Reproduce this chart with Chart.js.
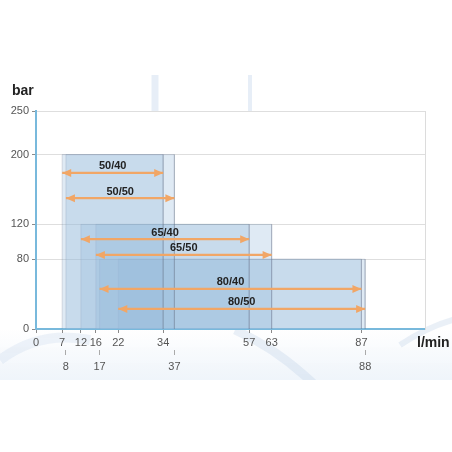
<!DOCTYPE html>
<html>
<head>
<meta charset="utf-8">
<script src="https://cdn.jsdelivr.net/npm/chart.js@4.4.1/dist/chart.umd.min.js"></script>
<style>
  html, body { margin: 0; padding: 0; background: #fff; }
  #wrap { width: 452px; height: 452px; }
</style>
</head>
<body>
<div id="wrap"><canvas id="grafico"></canvas></div>
<script>
// pump models and their working ranges (l/min) and max pressure (bar)
const modelos = ['50/40', '50/50', '65/40', '65/50', '80/40', '80/50'];
const vazaoMin = [7, 8, 12, 16, 17, 22];
const vazaoMax = [34, 37, 57, 63, 87, 88];
const pressaoMax = [200, 200, 120, 120, 80, 80];
// height (bar) at which each range arrow sits
const nivelSeta = [179, 150, 103, 85, 46, 23];

const ticksY = [0, 80, 120, 200, 250];
const ticksX1 = [0, 7, 12, 16, 22, 34, 57, 63, 87];
const ticksX2 = [8, 17, 37, 88];

const corSeta = 'rgb(241, 166, 102)';
const fonte = '"Liberation Sans", Arial, sans-serif';

const datasets = [];
modelos.forEach((m, i) => {
    datasets.push({
        label: m,
        data: [
            { x: vazaoMin[i], y: nivelSeta[i] },
            { x: vazaoMax[i], y: nivelSeta[i] }
        ],
        borderColor: corSeta,
        borderWidth: 2.2,
        pointRadius: 0,
        fill: false,
        order: 0,
        seta: true
    });
});
modelos.forEach((m, i) => {
    datasets.push({
        label: 'box ' + m,
        data: [
            { x: vazaoMin[i], y: 0 },
            { x: vazaoMin[i], y: pressaoMax[i] },
            { x: vazaoMax[i], y: pressaoMax[i] },
            { x: vazaoMax[i], y: 0 }
        ],
        borderColor: 'rgba(115, 130, 150, 0.28)',
        borderWidth: 1,
        backgroundColor: 'rgba(150, 185, 220, 0.3)',
        pointRadius: 0,
        tension: 0,
        fill: 'origin',
        order: 1
    });
});

// faint background picture behind the plot
const fundo = {
    id: 'fundo',
    beforeDraw(chart) {
        const ctx = chart.ctx;
        const a = chart.chartArea;
        ctx.save();
        ctx.beginPath();
        ctx.rect(0, 75, chart.width, 305);
        ctx.clip();
        const g = ctx.createLinearGradient(0, 330, 0, 380);
        g.addColorStop(0, 'rgba(228, 237, 247, 0.0)');
        g.addColorStop(1, 'rgba(228, 237, 247, 0.6)');
        ctx.fillStyle = g;
        ctx.fillRect(0, 330, chart.width, 50);
        ctx.strokeStyle = 'rgba(185, 205, 230, 0.3)';
        ctx.lineWidth = 9;
        ctx.beginPath();
        ctx.moveTo(235, 330);
        ctx.quadraticCurveTo(280, 350, 320, 390);
        ctx.stroke();
        ctx.lineWidth = 6;
        ctx.beginPath();
        ctx.moveTo(400, 345);
        ctx.quadraticCurveTo(430, 325, 460, 318);
        ctx.stroke();
        ctx.strokeStyle = 'rgba(205, 220, 238, 0.35)';
        ctx.lineWidth = 10;
        ctx.beginPath();
        ctx.moveTo(0, 360);
        ctx.quadraticCurveTo(40, 330, 90, 340);
        ctx.stroke();
        ctx.strokeStyle = 'rgba(215, 226, 242, 0.6)';
        ctx.lineWidth = 7;
        ctx.beginPath();
        ctx.moveTo(155, 75);
        ctx.lineTo(155, 112);
        ctx.stroke();
        ctx.lineWidth = 4;
        ctx.beginPath();
        ctx.moveTo(250, 75);
        ctx.lineTo(250, 112);
        ctx.stroke();
        ctx.restore();
        ctx.fillStyle = '#fff';
        ctx.fillRect(a.left, a.top, a.right - a.left, a.bottom - a.top);
    }
};

// arrow heads, model labels and axis titles
const setas = {
    id: 'setas',
    afterDatasetsDraw(chart) {
        const ctx = chart.ctx;
        ctx.save();
        chart.data.datasets.forEach((ds, i) => {
            if (!ds.seta) return;
            const pts = chart.getDatasetMeta(i).data;
            const p0 = pts[0], p1 = pts[1];
            ctx.fillStyle = corSeta;
            [[p0, -1], [p1, 1]].forEach(([p, d]) => {
                ctx.beginPath();
                ctx.moveTo(p.x, p.y);
                ctx.lineTo(p.x - d * 9, p.y - 4);
                ctx.lineTo(p.x - d * 9, p.y + 4);
                ctx.closePath();
                ctx.fill();
            });
            ctx.fillStyle = '#222';
            ctx.font = 'bold 11px ' + fonte;
            ctx.textAlign = 'center';
            ctx.textBaseline = 'bottom';
            ctx.fillText(ds.label, (p0.x + p1.x) / 2, p0.y - 1);
        });
        ctx.restore();
    },
    afterDraw(chart) {
        const ctx = chart.ctx;
        const a = chart.chartArea;
        ctx.save();
        ctx.fillStyle = '#222';
        ctx.font = 'bold 14px ' + fonte;
        ctx.textBaseline = 'middle';
        ctx.textAlign = 'left';
        ctx.fillText('bar', 12, a.top - 20);
        ctx.fillText('l/min', a.right - 8, a.bottom + 14);
        ctx.restore();
    }
};

const ctx = document.getElementById('grafico').getContext('2d');
new Chart(ctx, {
    type: 'line',
    data: { datasets: datasets },
    options: {
        responsive: true,
        maintainAspectRatio: false,
        animation: false,
        layout: { padding: { top: 111, left: 0, right: 27, bottom: 76 } },
        plugins: {
            legend: { display: false },
            tooltip: { enabled: false }
        },
        scales: {
            x: {
                type: 'linear',
                min: 0,
                max: 104,
                weight: 0,
                afterBuildTicks: s => { s.ticks = ticksX1.map(v => ({ value: v })); },
                afterFit: s => { s.height = 21; },
                grid: { drawOnChartArea: false, tickLength: 4, tickColor: '#8a8a8a' },
                border: { color: 'rgb(120, 185, 220)', width: 2 },
                ticks: { color: '#555', padding: 3, font: { family: fonte, size: 11 }, maxRotation: 0, autoSkip: false }
            },
            x2: {
                type: 'linear',
                position: 'bottom',
                min: 0,
                max: 104,
                weight: 1,
                afterBuildTicks: s => { s.ticks = ticksX2.map(v => ({ value: v })); },
                afterFit: s => { s.height = 26; },
                grid: { drawOnChartArea: false, tickLength: 5, tickColor: '#aaa' },
                border: { display: false },
                ticks: { color: '#555', padding: 5, font: { family: fonte, size: 11 }, maxRotation: 0, autoSkip: false }
            },
            y: {
                min: 0,
                max: 250,
                afterBuildTicks: s => { s.ticks = ticksY.map(v => ({ value: v })); },
                afterFit: s => { s.width = 36; },
                grid: { color: '#dedede', tickLength: 4, tickColor: '#8a8a8a' },
                border: { color: 'rgb(120, 185, 220)', width: 2 },
                ticks: { color: '#555', padding: 3, font: { family: fonte, size: 11 } }
            },
            yr: {
                position: 'right',
                min: 0,
                max: 250,
                afterFit: s => { s.width = 0; },
                grid: { display: false },
                border: { color: '#dcdcdc', width: 1 },
                ticks: { display: false }
            }
        }
    },
    plugins: [fundo, setas]
});
</script>
</body>
</html>
